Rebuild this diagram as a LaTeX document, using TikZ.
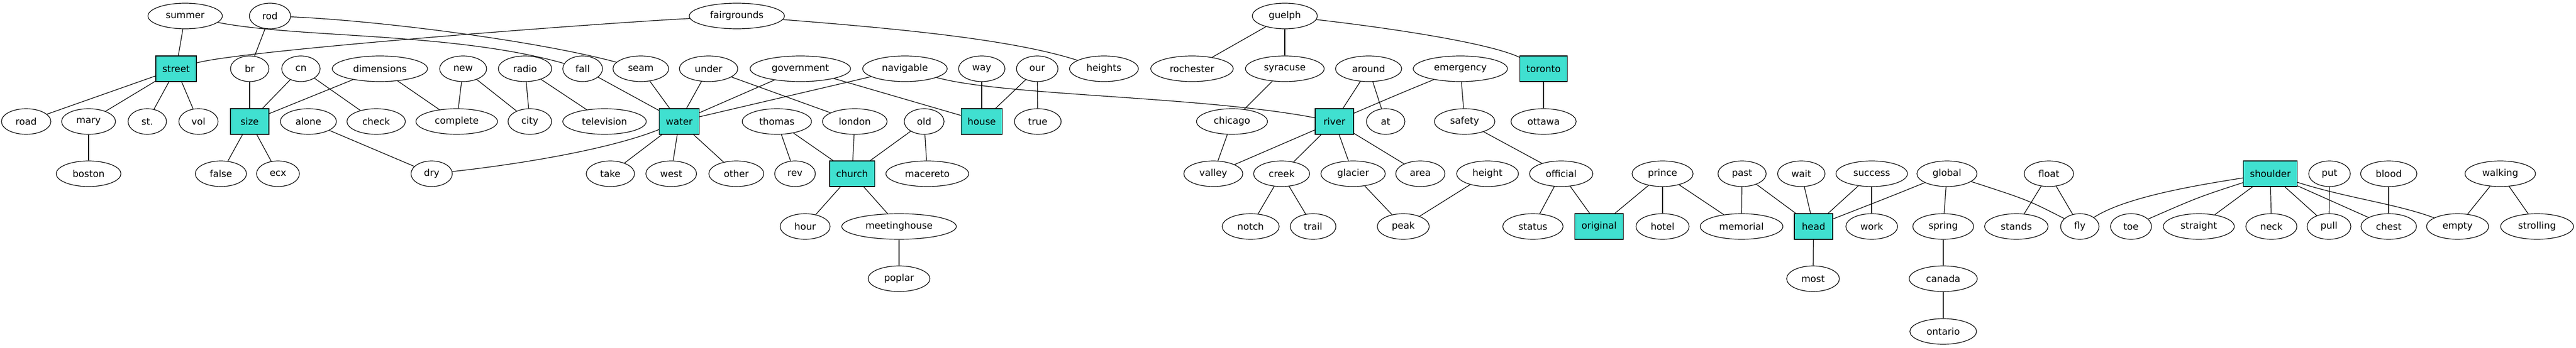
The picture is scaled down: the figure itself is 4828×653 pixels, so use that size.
\documentclass[tikz,border=0pt]{standalone}
\usepackage{fontspec}
\setmainfont{DejaVu Sans}
\usepackage{xcolor}
\usepackage{tikz}
\usetikzlibrary{
  shapes.geometric
}
\definecolor{keyword}{HTML}{40E0D0}

\begin{document}
\begin{tikzpicture}[
  x = 0.75pt, y = -0.75pt,
  word/.style = {ellipse, draw, line width = 0.9pt, minimum width = 54pt, minimum height = 36pt,
                 inner xsep = 9.7pt, inner ysep = 2pt, font = \fontsize{13.2}{15}\selectfont},
  key/.style  = {rectangle, draw, line width = 0.9pt, fill = keyword, minimum width = 54pt, minimum height = 36pt,
                 inner xsep = 9.2pt, inner ysep = 2pt, font = \fontsize{13.2}{15}\selectfont},
  link/.style = {line width = 0.9pt}
]
  \useasboundingbox (0, 0) rectangle (4828, 653);

  % Top row
  \node [word] (summer)      at ( 347,  30) {summer};
  \node [word] (rod)         at ( 506,  30) {rod};
  \node [word] (fairgrounds) at (1381,  30) {fairgrounds};
  \node [word] (guelph)      at (2408,  30) {guelph};

  % Second row
  \node [key]  (street)      at ( 330, 129) {street};
  \node [word] (br)          at ( 468, 129) {br};
  \node [word] (cn)          at ( 564, 129) {cn};
  \node [word] (dimensions)  at ( 712, 129) {dimensions};
  \node [word] (new)         at ( 868, 129) {new};
  \node [word] (radio)       at ( 984, 129) {radio};
  \node [word] (fall)        at (1092, 129) {fall};
  \node [word] (seam)        at (1201, 129) {seam};
  \node [word] (under)       at (1328, 129) {under};
  \node [word] (government)  at (1500, 129) {government};
  \node [word] (navigable)   at (1696, 129) {navigable};
  \node [word] (way)         at (1840, 129) {way};
  \node [word] (our)         at (1944, 129) {our};
  \node [word] (heights)     at (2069, 129) {heights};
  \node [word] (rochester)   at (2234, 129) {rochester};
  \node [word] (syracuse)    at (2408, 129) {syracuse};
  \node [word] (around)      at (2565, 129) {around};
  \node [word] (emergency)   at (2737, 129) {emergency};
  \node [key]  (toronto)     at (2893, 129) {toronto};

  % Third row
  \node [word] (road)        at (  49, 228) {road};
  \node [word] (mary)        at ( 166, 228) {mary};
  \node [word] (st)          at ( 276, 228) {st.};
  \node [word] (vol)         at ( 372, 228) {vol};
  \node [key]  (size)        at ( 468, 228) {size};
  \node [word] (alone)       at ( 578, 228) {alone};
  \node [word] (check)       at ( 705, 228) {check};
  \node [word] (complete)    at ( 856, 228) {complete};
  \node [word] (city)        at ( 993, 228) {city};
  \node [word] (television)  at (1133, 228) {television};
  \node [key]  (water)       at (1273, 228) {water};
  \node [word] (thomas)      at (1456, 228) {thomas};
  \node [word] (london)      at (1602, 228) {london};
  \node [word] (old)         at (1732, 228) {old};
  \node [key]  (house)       at (1840, 228) {house};
  \node [word] (true)        at (1945, 228) {true};
  \node [word] (chicago)     at (2309, 228) {chicago};
  \node [key]  (river)       at (2501, 228) {river};
  \node [word] (at)          at (2597, 228) {at};
  \node [word] (safety)      at (2745, 228) {safety};
  \node [word] (ottawa)      at (2893, 228) {ottawa};

  % Fourth row
  \node [word] (boston)      at ( 166, 326) {boston};
  \node [word] (false)       at ( 414, 326) {false};
  \node [word] (ecx)         at ( 521, 326) {ecx};
  \node [word] (dry)         at ( 809, 326) {dry};
  \node [word] (take)        at (1144, 326) {take};
  \node [word] (west)        at (1258, 326) {west};
  \node [word] (other)       at (1380, 326) {other};
  \node [word] (rev)         at (1490, 326) {rev};
  \node [key]  (church)      at (1597, 326) {church};
  \node [word] (macereto)    at (1738, 326) {macereto};
  \node [word] (valley)      at (2274, 326) {valley};
  \node [word] (creek)       at (2402, 326) {creek};
  \node [word] (glacier)     at (2536, 326) {glacier};
  \node [word] (area)        at (2662, 326) {area};
  \node [word] (height)      at (2788, 326) {height};
  \node [word] (official)    at (2926, 326) {official};
  \node [word] (prince)      at (3116, 326) {prince};
  \node [word] (past)        at (3265, 326) {past};
  \node [word] (wait)        at (3376, 326) {wait};
  \node [word] (success)     at (3508, 326) {success};
  \node [word] (global)      at (3649, 326) {global};
  \node [word] (float)       at (3840, 326) {float};
  \node [key]  (shoulder)    at (4255, 326) {shoulder};
  \node [word] (put)         at (4366, 326) {put};
  \node [word] (blood)       at (4477, 326) {blood};
  \node [word] (walking)     at (4686, 326) {walking};

  % Fifth row
  \node [word] (hour)        at (1509, 425) {hour};
  \node [word] (meetinghouse) at (1685, 425) {meetinghouse};
  \node [word] (notch)       at (2344, 425) {notch};
  \node [word] (trail)       at (2461, 425) {trail};
  \node [word] (peak)        at (2630, 425) {peak};
  \node [word] (status)      at (2873, 425) {status};
  \node [key]  (original)    at (2997, 425) {original};
  \node [word] (hotel)       at (3116, 425) {hotel};
  \node [word] (memorial)    at (3264, 425) {memorial};
  \node [key]  (head)        at (3399, 425) {head};
  \node [word] (work)        at (3508, 425) {work};
  \node [word] (spring)      at (3642, 425) {spring};
  \node [word] (stands)      at (3779, 425) {stands};
  \node [word] (fly)         at (3898, 425) {fly};
  \node [word] (toe)         at (3994, 425) {toe};
  \node [word] (straight)    at (4121, 425) {straight};
  \node [word] (neck)        at (4257, 425) {neck};
  \node [word] (pull)        at (4365, 425) {pull};
  \node [word] (chest)       at (4477, 425) {chest};
  \node [word] (empty)       at (4606, 425) {empty};
  \node [word] (strolling)   at (4755, 425) {strolling};

  % Bottom rows
  \node [word] (poplar)      at (1685, 523) {poplar};
  \node [word] (most)        at (3398, 523) {most};
  \node [word] (canada)      at (3642, 523) {canada};
  \node [word] (ontario)     at (3642, 622) {ontario};

  % Street and size
  \draw [link] (summer) -- (street);
  \draw [link] (summer) .. controls (560, 72) and (850, 60) .. (fall);
  \draw [link] (rod) .. controls (700, 38) and (1000, 75) .. (seam);
  \draw [link] (street) .. controls (450, 95) and (1100, 45) .. (fairgrounds);
  \draw [link] (fairgrounds) .. controls (1700, 55) and (1900, 75) .. (heights);
  \draw [link] (rod) -- (br);
  \draw [link] (br) -- (size);
  \draw [link] (cn) -- (size);
  \draw [link] (cn) -- (check);
  \draw [link] (dimensions) -- (size);
  \draw [link] (dimensions) -- (complete);
  \draw [link] (street) -- (road);
  \draw [link] (street) -- (mary);
  \draw [link] (street) -- (st);
  \draw [link] (street) -- (vol);
  \draw [link] (mary) -- (boston);
  \draw [link] (size) -- (false);
  \draw [link] (size) -- (ecx);
  \draw [link] (alone) -- (dry);
  \draw [link] (new) -- (complete);
  \draw [link] (new) -- (city);
  \draw [link] (radio) -- (city);
  \draw [link] (radio) -- (television);

  % Water, church and house
  \draw [link] (fall) -- (water);
  \draw [link] (seam) -- (water);
  \draw [link] (under) -- (water);
  \draw [link] (under) -- (london);
  \draw [link] (government) -- (water);
  \draw [link] (government) -- (house);
  \draw [link] (navigable) -- (water);
  \draw [link] (navigable) .. controls (1880, 180) and (2250, 180) .. (river);
  \draw [link] (water) .. controls (1130, 285) and (940, 312) .. (dry);
  \draw [link] (water) -- (take);
  \draw [link] (water) -- (west);
  \draw [link] (water) -- (other);
  \draw [link] (thomas) -- (rev);
  \draw [link] (thomas) -- (church);
  \draw [link] (london) -- (church);
  \draw [link] (old) -- (church);
  \draw [link] (old) -- (macereto);
  \draw [link] (church) -- (hour);
  \draw [link] (church) -- (meetinghouse);
  \draw [link] (meetinghouse) -- (poplar);
  \draw [link] (way) -- (house);
  \draw [link] (our) -- (house);
  \draw [link] (our) -- (true);

  % River and toronto
  \draw [link] (guelph) -- (rochester);
  \draw [link] (guelph) -- (syracuse);
  \draw [link] (guelph) .. controls (2600, 52) and (2790, 80) .. (toronto);
  \draw [link] (syracuse) -- (chicago);
  \draw [link] (chicago) -- (valley);
  \draw [link] (river) -- (valley);
  \draw [link] (river) -- (creek);
  \draw [link] (river) -- (glacier);
  \draw [link] (river) -- (area);
  \draw [link] (around) -- (river);
  \draw [link] (around) -- (at);
  \draw [link] (emergency) .. controls (2625, 175) .. (river);
  \draw [link] (emergency) -- (safety);
  \draw [link] (toronto) -- (ottawa);
  \draw [link] (safety) -- (official);
  \draw [link] (creek) -- (notch);
  \draw [link] (creek) -- (trail);
  \draw [link] (glacier) -- (peak);
  \draw [link] (height) -- (peak);

  % Original and head
  \draw [link] (official) -- (status);
  \draw [link] (official) -- (original);
  \draw [link] (prince) -- (original);
  \draw [link] (prince) -- (hotel);
  \draw [link] (prince) -- (memorial);
  \draw [link] (past) -- (memorial);
  \draw [link] (past) -- (head);
  \draw [link] (wait) -- (head);
  \draw [link] (success) -- (head);
  \draw [link] (success) -- (work);
  \draw [link] (global) .. controls (3540, 370) .. (head);
  \draw [link] (global) -- (spring);
  \draw [link] (global) .. controls (3800, 375) .. (fly);
  \draw [link] (head) -- (most);
  \draw [link] (spring) -- (canada);
  \draw [link] (canada) -- (ontario);
  \draw [link] (float) -- (stands);
  \draw [link] (float) -- (fly);

  % Shoulder
  \draw [link] (shoulder) .. controls (4100, 350) and (3980, 372) .. (fly);
  \draw [link] (shoulder) .. controls (4120, 370) .. (toe);
  \draw [link] (shoulder) -- (straight);
  \draw [link] (shoulder) -- (neck);
  \draw [link] (shoulder) -- (pull);
  \draw [link] (shoulder) -- (chest);
  \draw [link] (shoulder) .. controls (4400, 372) and (4490, 382) .. (empty);
  \draw [link] (put) -- (pull);
  \draw [link] (blood) -- (chest);
  \draw [link] (walking) -- (empty);
  \draw [link] (walking) -- (strolling);
\end{tikzpicture}
\end{document}
